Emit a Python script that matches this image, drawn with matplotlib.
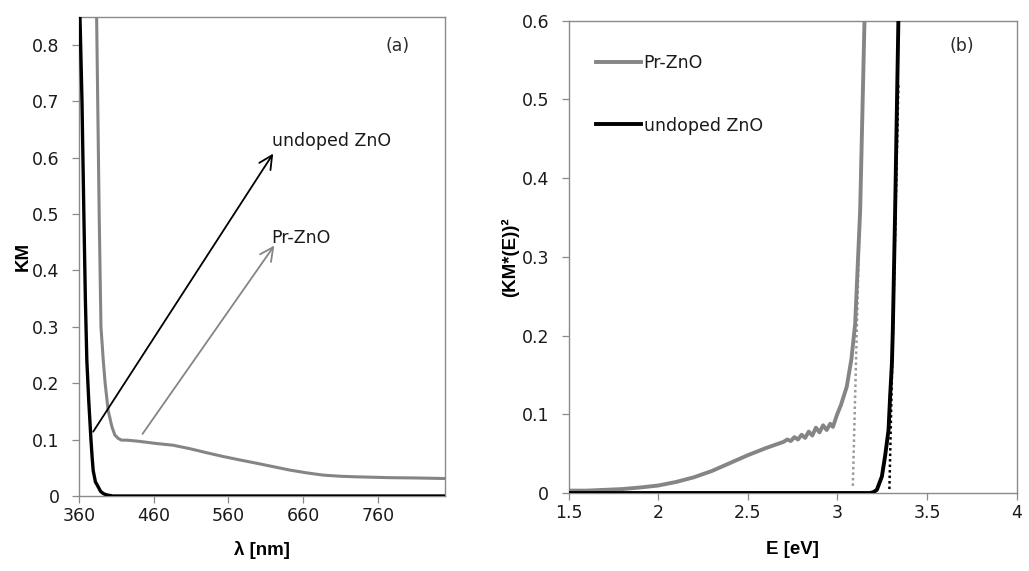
import matplotlib
matplotlib.use("Agg")
import matplotlib.pyplot as plt
import numpy as np

# ---------------- data: panel (a) ----------------
wl_undoped = [360, 361.3, 364, 366.5, 368.5, 370.5, 373, 376, 377.5, 379, 382, 385.8, 389, 393, 397, 405, 450, 550, 650, 750, 850]
km_undoped = [0.95, 0.85, 0.70, 0.50, 0.35, 0.24, 0.17, 0.10, 0.07, 0.045, 0.025, 0.016, 0.008, 0.004, 0.002, 0.0, 0.0, 0.0, 0.0, 0.0, 0.0]

wl_pr = [383, 383.6, 387, 389.4, 392.5, 395, 399, 404, 408, 412.6, 417, 424, 440, 464, 486, 508, 530, 553, 575, 598, 620, 642, 665, 687, 710, 731, 776, 810, 850]
km_pr = [0.95, 0.85, 0.50, 0.30, 0.24, 0.20, 0.152, 0.123, 0.108, 0.102, 0.099, 0.099, 0.097, 0.093, 0.090, 0.084, 0.077, 0.070, 0.064, 0.058, 0.052, 0.046, 0.041, 0.037, 0.035, 0.034, 0.0325, 0.032, 0.031]

arrow_undoped = {"tail": (379, 0.114), "head": (620, 0.607)}
arrow_pr = {"tail": (445, 0.110), "head": (621.5, 0.444)}
label_undoped = (618, 0.630, "undoped ZnO")
label_pr = (618, 0.457, "Pr-ZnO")

xticks_a = [360, 460, 560, 660, 760]
yticks_a = [0, 0.1, 0.2, 0.3, 0.4, 0.5, 0.6, 0.7, 0.8]

# ---------------- data: panel (b) ----------------
E_pr = [1.5, 1.6, 1.7, 1.8, 1.9, 2.0, 2.1, 2.2, 2.3, 2.4, 2.5, 2.6, 2.7,
        2.72, 2.74, 2.76, 2.78, 2.80, 2.82, 2.84, 2.86, 2.88, 2.90, 2.92, 2.94, 2.96,
        2.975, 2.997, 3.02, 3.052, 3.078, 3.099, 3.127, 3.151, 3.16]
tauc_pr = [0.003, 0.003, 0.004, 0.005, 0.007, 0.0095, 0.014, 0.020, 0.028, 0.038, 0.048, 0.057, 0.065,
           0.068, 0.066, 0.071, 0.068, 0.074, 0.070, 0.078, 0.073, 0.083, 0.077, 0.086, 0.080, 0.088,
           0.084, 0.099, 0.112, 0.135, 0.170, 0.215, 0.36, 0.60, 0.70]

E_und = [1.5, 2.0, 2.5, 3.0, 3.182, 3.20, 3.22, 3.248, 3.266, 3.285, 3.294, 3.304, 3.309, 3.322, 3.34, 3.35]
tauc_und = [0.0, 0.0, 0.0, 0.0, 0.0, 0.001, 0.004, 0.021, 0.047, 0.080, 0.123, 0.165, 0.207, 0.36, 0.60, 0.70]

fit_pr_E = [3.086, 3.143]
fit_pr_y = [0.009, 0.52]
fit_und_E = [3.29, 3.34]
fit_und_y = [0.005, 0.52]

xticks_b = [1.5, 2, 2.5, 3, 3.5, 4]
yticks_b = [0, 0.1, 0.2, 0.3, 0.4, 0.5, 0.6]

# ---------------- styling ----------------
GRAY = "#858585"
SPINE = "#8a8a8a"
TICKFONT = "DejaVu Sans"
LABELFONT = "Liberation Sans"
FS = 12.5

fig = plt.figure(figsize=(10.29, 5.71), dpi=100)
W, H = 1029, 571
axa = fig.add_axes([79 / W, 1 - 496 / H, (445 - 79) / W, (496 - 16.5) / H])
axb = fig.add_axes([568.5 / W, 1 - 493 / H, (1016.7 - 568.5) / W, (493 - 20.7) / H])

for ax in (axa, axb):
    for s in ax.spines.values():
        s.set_color(SPINE)
        s.set_linewidth(1.0)
    ax.tick_params(axis="both", direction="out", length=5, width=0.9, color=SPINE,
                   labelsize=FS, labelcolor="#1a1a1a")
    ax.tick_params(axis="y", pad=9)
    ax.tick_params(axis="x", pad=3)

# ---- panel (a)
axa.plot(wl_pr, km_pr, color=GRAY, lw=2.2, solid_joinstyle="round", zorder=3)
axa.plot(wl_undoped, km_undoped, color="black", lw=2.4, solid_joinstyle="round", zorder=4)
axa.set_xlim(360, 850)
axa.set_ylim(0, 0.85)
axa.set_xticks(xticks_a)
axa.set_yticks(yticks_a)
axa.set_xticklabels([str(v) for v in xticks_a], family=TICKFONT)
axa.set_yticklabels(["0" if v == 0 else f"{v:.1f}" for v in yticks_a], family=TICKFONT)

axa.annotate("", xy=arrow_undoped["head"], xytext=arrow_undoped["tail"],
             arrowprops=dict(arrowstyle="->", color="black", lw=1.3, mutation_scale=24,
                             shrinkA=0, shrinkB=0), zorder=5)
axa.annotate("", xy=arrow_pr["head"], xytext=arrow_pr["tail"],
             arrowprops=dict(arrowstyle="->", color=GRAY, lw=1.3, mutation_scale=24,
                             shrinkA=0, shrinkB=0), zorder=5)
axa.text(label_undoped[0], label_undoped[1], label_undoped[2], fontsize=FS, family=TICKFONT,
         ha="left", va="center", color="#1a1a1a")
axa.text(label_pr[0], label_pr[1], label_pr[2], fontsize=FS, family=TICKFONT,
         ha="left", va="center", color="#1a1a1a")
axa.text(787, 0.797, "(a)", fontsize=FS, family=TICKFONT, ha="center", va="center", color="#2a2a2a")

axa.set_ylabel("KM", fontsize=13.5, fontweight="bold", family=LABELFONT)
axa.set_xlabel("λ [nm]", fontsize=13.5, fontweight="bold", family=LABELFONT)
axa.yaxis.set_label_coords((32 - 79) / 366, 0.5)
axa.xaxis.set_label_coords(0.5, (496 - 541) / 479.5)

# ---- panel (b)
axb.plot(fit_pr_E, fit_pr_y, color="#9a9a9a", lw=1.8, linestyle=(0, (1, 1.2)), zorder=2)
axb.plot(E_pr, tauc_pr, color=GRAY, lw=2.8, solid_joinstyle="round", label="Pr-ZnO", zorder=3)
axb.plot(E_und, tauc_und, color="black", lw=2.8, solid_joinstyle="round", label="undoped ZnO", zorder=4)
axb.plot(fit_und_E, fit_und_y, color="black", lw=1.8, linestyle=(0, (1, 1.2)), zorder=5)
axb.set_xlim(1.5, 4)
axb.set_ylim(0, 0.6)
axb.set_xticks(xticks_b)
axb.set_yticks(yticks_b)
axb.set_xticklabels([f"{v:g}" for v in xticks_b], family=TICKFONT)
axb.set_yticklabels(["0" if v == 0 else f"{v:.1f}" for v in yticks_b], family=TICKFONT)
axb.text(3.696, 0.568, "(b)", fontsize=FS, family=TICKFONT, ha="center", va="center", color="#2a2a2a")

leg = axb.legend(loc="upper left", bbox_to_anchor=(0.061, 0.929), frameon=False,
                 borderaxespad=0, borderpad=0, handlelength=2.6, handletextpad=0.15,
                 labelspacing=2.55, prop={"family": TICKFONT, "size": FS})
for t in leg.get_texts():
    t.set_color("#1a1a1a")

axb.set_ylabel("(KM*(E))²", fontsize=13.5, fontweight="bold", family=LABELFONT)
axb.set_xlabel("E [eV]", fontsize=13.5, fontweight="bold", family=LABELFONT)
axb.yaxis.set_label_coords((519 - 568.5) / 448.2, 0.5)
axb.xaxis.set_label_coords(0.5, (493 - 541) / 472.3)

fig.savefig("out.png", dpi=100)
